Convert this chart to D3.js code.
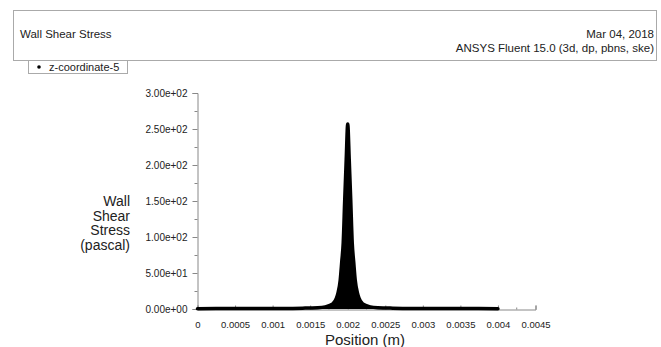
<!DOCTYPE html>
<html>
<head>
<meta charset="utf-8">
<script src="https://cdn.jsdelivr.net/npm/d3@7"></script>
<style>
	body { margin: 0; background: #fff; }
	svg text { font-family: "Liberation Sans", Arial, sans-serif; fill: #222; }
</style>
</head>
<body>
<svg id="chart"></svg>
<script>
// wall shear stress along the wall, z-coordinate-5
var position = [0, 0.0005, 0.001, 0.0014, 0.0016, 0.0017, 0.0018, 0.00185, 0.00187, 0.0019, 0.00192, 0.00194, 0.00196, 0.00198,
	0.0020, 0.00202, 0.00204, 0.00206, 0.00208, 0.0021, 0.00213, 0.00215, 0.0022, 0.0023, 0.0024, 0.0026, 0.003, 0.0035, 0.004];
var wss = [0.5, 0.6, 0.8, 1.2, 1.8, 3, 7, 15, 22, 40, 65, 92, 152, 208,
	257, 208, 152, 92, 65, 40, 22, 15, 7, 3, 1.8, 1.2, 0.8, 0.6, 0.5];

var yTicks = [0, 50, 100, 150, 200, 250, 300];
var xTicks = [0, 0.0005, 0.001, 0.0015, 0.002, 0.0025, 0.003, 0.0035, 0.004, 0.0045];
var yTitle = ["Wall", "Shear", "Stress", "(pascal)"];

var width = 661, height = 347;

var svg = d3.select("#chart")
	.attr("width", width)
	.attr("height", height);

// header box
svg.append("rect")
	.attr("x", 13.5).attr("y", 10.5)
	.attr("width", 643).attr("height", 50)
	.attr("fill", "none")
	.attr("stroke", "#aaa");

svg.append("text")
	.attr("x", 20).attr("y", 38)
	.style("font-size", "11.5px")
	.text("Wall Shear Stress");

svg.append("text")
	.attr("x", 654).attr("y", 38)
	.attr("text-anchor", "end")
	.style("font-size", "11.5px")
	.text("Mar 04, 2018");

svg.append("text")
	.attr("x", 654).attr("y", 52)
	.attr("text-anchor", "end")
	.style("font-size", "11.5px")
	.text("ANSYS Fluent 15.0 (3d, dp, pbns, ske)");

// legend
svg.append("rect")
	.attr("x", 28.5).attr("y", 60.5)
	.attr("width", 99).attr("height", 13)
	.attr("fill", "#fff")
	.attr("stroke", "#aaa");

svg.append("circle")
	.attr("cx", 39).attr("cy", 67)
	.attr("r", 1.8)
	.attr("fill", "#000");

svg.append("text")
	.attr("x", 49).attr("y", 71)
	.style("font-size", "11px")
	.text("z-coordinate-5");

// scales
var x = d3.scaleLinear()
	.domain([0, 0.0045])
	.range([197.5, 535.5]);

var y = d3.scaleLinear()
	.domain([0, 300])
	.range([309, 93]);

// y axis
var yAxis = d3.axisLeft(y)
	.tickValues(yTicks)
	.tickSize(5)
	.tickPadding(5)
	.tickFormat(function(d) {
		return d3.format(".2e")(d).replace(/e([+-])(\d)$/, "e$10$2");
	});

var gy = svg.append("g")
	.attr("transform", "translate(197.5,0)")
	.call(yAxis);
gy.select(".domain").attr("stroke", "#888");
gy.selectAll(".tick line").attr("stroke", "#888");
gy.selectAll(".tick text")
	.style("font-size", "10px")
	.attr("fill", "#222");

// minor y ticks
gy.selectAll(".minor")
	.data(d3.range(25, 300, 50))
	.enter().append("line")
	.attr("x1", -3).attr("x2", 0)
	.attr("y1", function(d) { return y(d) + 0.5; })
	.attr("y2", function(d) { return y(d) + 0.5; })
	.attr("stroke", "#888");

// x axis (ticks point up into the plot)
var xAxis = d3.axisTop(x)
	.tickValues(xTicks)
	.tickSize(4)
	.tickFormat(function(d) { return d === 0 ? "0" : String(+d.toFixed(4)); });

var gx = svg.append("g")
	.attr("transform", "translate(0,309.5)")
	.call(xAxis);
gx.select(".domain").attr("stroke", "#888");
gx.selectAll(".tick line").attr("stroke", "#888");
gx.selectAll(".tick text")
	.attr("y", 18)
	.attr("fill", "#222")
	.style("font-size", "9.5px");

gx.selectAll(".minor")
	.data(d3.range(0.00025, 0.0045, 0.0005))
	.enter().append("line")
	.attr("x1", function(d) { return x(d); })
	.attr("x2", function(d) { return x(d); })
	.attr("y1", -2).attr("y2", 0)
	.attr("stroke", "#888");

// axis titles
svg.append("text")
	.attr("x", 365).attr("y", 345)
	.attr("text-anchor", "middle")
	.style("font-size", "15px")
	.text("Position (m)");

svg.append("text")
	.attr("text-anchor", "end")
	.style("font-size", "14px")
	.selectAll("tspan")
	.data(yTitle)
	.enter().append("tspan")
	.attr("x", 130)
	.attr("y", function(d, i) { return 206 + i * 14.5; })
	.text(function(d) { return d; });

// data
var pts = position.map(function(p, i) { return [p, wss[i]]; });

var area = d3.area()
	.x(function(d) { return x(d[0]); })
	.y0(y(0))
	.y1(function(d) { return y(d[1]); })
	.curve(d3.curveMonotoneX);

var line = d3.line()
	.x(function(d) { return x(d[0]); })
	.y(function(d) { return y(d[1]); })
	.curve(d3.curveMonotoneX);

svg.append("path")
	.datum(pts)
	.attr("d", area)
	.attr("fill", "#000");

svg.append("path")
	.datum(pts)
	.attr("d", line)
	.attr("fill", "none")
	.attr("stroke", "#000")
	.attr("stroke-width", 3.5)
	.attr("stroke-linecap", "round")
	.attr("stroke-linejoin", "round");
</script>
</body>
</html>
